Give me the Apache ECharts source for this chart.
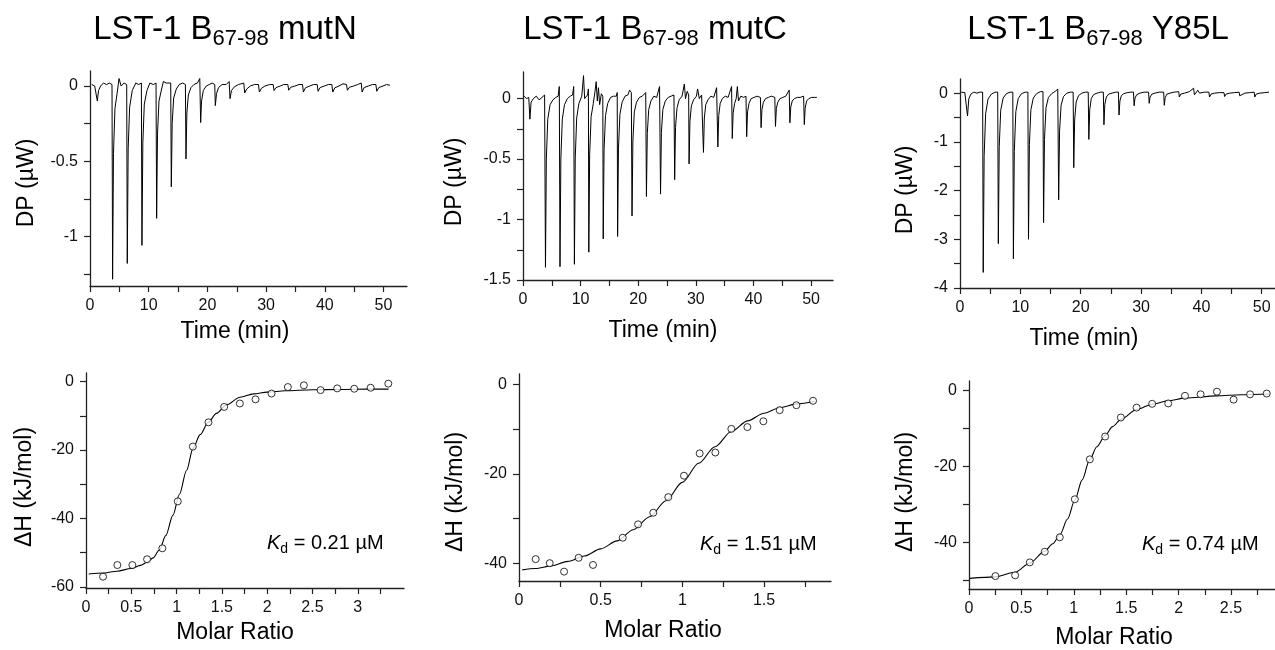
<!DOCTYPE html>
<html>
<head>
<meta charset="utf-8">
<script src="https://cdn.jsdelivr.net/npm/echarts@6/dist/echarts.min.js"></script>
<style>
html,body{margin:0;padding:0;background:#fff;}
#chart{width:1275px;height:650px;}
</style>
</head>
<body>
<div id="chart"></div>
<script>
// ---------------- DATA ----------------
const titles = ['mutN', 'mutC', 'Y85L'];
const kdLabels = ['0.21', '1.51', '0.74'];

// Raw thermograms: [time (min), DP (µW)]
const traceMutN = [
 [0.3,0.01],[0.8,0.0],[1.1,0.01],[1.25,-0.10],[1.45,-0.03],[1.8,0.0],[2.3,0.02],[2.8,0.01],[3.3,0.02],[3.75,0.01],
 [3.85,-1.285],[4.0,-0.45],[4.25,-0.15],[4.65,-0.04],[4.95,0.05],[5.3,0.0],[5.8,0.02],[6.25,0.01],
 [6.35,-1.18],[6.5,-0.42],[6.75,-0.14],[7.2,-0.03],[7.8,0.02],[8.3,0.01],[8.75,0.02],
 [8.85,-1.06],[9.0,-0.38],[9.25,-0.12],[9.7,-0.03],[10.2,0.02],[10.8,0.01],[11.25,0.02],
 [11.35,-0.88],[11.5,-0.32],[11.75,-0.10],[12.2,-0.02],[12.5,0.03],[13.0,0.02],[13.75,0.02],
 [13.85,-0.67],[14.0,-0.25],[14.25,-0.08],[14.7,-0.02],[15.2,0.01],[15.8,0.02],[16.25,0.01],
 [16.35,-0.485],[16.5,-0.18],[16.75,-0.06],[17.2,-0.01],[17.7,0.01],[18.3,0.02],[18.7,0.05],
 [18.85,-0.243],[19.0,-0.10],[19.3,-0.03],[19.8,0.0],[20.3,0.01],[20.8,0.02],[21.25,0.01],
 [21.35,-0.13],[21.55,-0.05],[21.9,-0.01],[22.5,0.01],[23.2,0.01],[23.7,0.03],
 [23.85,-0.084],[24.1,-0.03],[24.6,-0.005],[25.3,0.01],[26.2,0.02],
 [26.35,-0.046],[26.7,-0.02],[27.3,0.0],[28.0,0.01],[28.7,0.01],
 [28.85,-0.04],[29.2,-0.015],[29.8,0.0],[30.6,0.01],[31.2,0.01],
 [31.35,-0.03],[31.7,-0.01],[32.4,0.0],[33.0,0.01],[33.7,0.01],
 [33.85,-0.028],[34.2,-0.008],[34.9,0.0],[35.6,0.01],[36.2,0.01],
 [36.35,-0.04],[36.7,-0.012],[37.4,0.0],[38.1,0.01],[38.7,0.01],
 [38.85,-0.035],[39.2,-0.01],[39.9,0.0],[40.6,0.01],[41.2,0.01],
 [41.35,-0.04],[41.7,-0.012],[42.4,0.0],[43.1,0.015],[43.7,0.01],
 [43.85,-0.028],[44.2,-0.008],[44.9,0.0],[45.6,0.01],[46.2,0.02],
 [46.35,-0.04],[46.7,-0.01],[47.4,0.0],[48.1,0.01],[48.7,0.01],
 [48.85,-0.035],[49.2,-0.01],[49.9,0.0],[50.5,0.01],[51.1,0.005]
];
const traceMutC = [
 [0.2,0.02],[0.6,0.0],[1.0,0.01],[1.2,-0.17],[1.4,-0.03],[1.8,0.0],[2.3,0.02],[2.8,-0.01],[3.3,0.01],[3.75,0.03],
 [3.9,-1.395],[4.05,-0.5],[4.3,-0.17],[4.7,-0.05],[5.2,-0.01],[5.7,0.01],[6.1,0.02],[6.3,0.1],
 [6.42,-1.39],[6.57,-0.5],[6.82,-0.17],[7.2,-0.05],[7.7,0.0],[8.2,0.02],[8.6,0.03],[8.8,0.1],
 [8.92,-1.37],[9.07,-0.49],[9.32,-0.16],[9.7,-0.04],[10.2,0.02],[10.5,0.19],[10.7,0.0],[11.2,0.03],[11.35,0.08],
 [11.42,-1.27],[11.57,-0.46],[11.82,-0.15],[12.2,-0.04],[12.5,0.06],[12.7,0.14],[12.9,-0.02],[13.1,0.09],[13.3,-0.05],[13.6,0.04],[13.85,0.02],
 [13.92,-1.16],[14.07,-0.42],[14.32,-0.14],[14.7,-0.04],[15.2,0.01],[15.7,0.02],[16.2,0.02],[16.35,0.05],
 [16.42,-1.14],[16.57,-0.41],[16.82,-0.13],[17.2,-0.03],[17.7,0.02],[18.2,0.03],[18.5,0.07],[18.8,0.05],
 [18.92,-0.97],[19.07,-0.35],[19.32,-0.11],[19.7,-0.03],[20.2,0.01],[20.7,0.02],[21.3,0.05],
 [21.42,-0.81],[21.57,-0.29],[21.82,-0.09],[22.2,-0.02],[22.7,0.02],[23.2,0.01],[23.7,0.1],
 [23.87,-0.79],[24.02,-0.28],[24.27,-0.09],[24.7,-0.02],[25.2,0.01],[25.7,0.02],[26.2,0.03],
 [26.32,-0.67],[26.47,-0.24],[26.72,-0.08],[27.1,-0.01],[27.6,0.02],[28.0,0.12],[28.2,0.0],[28.5,0.06],[28.75,0.03],
 [28.82,-0.54],[28.97,-0.19],[29.22,-0.06],[29.6,-0.01],[30.1,0.02],[30.3,0.08],[30.6,0.0],[31.0,0.03],[31.25,0.02],
 [31.32,-0.445],[31.47,-0.16],[31.72,-0.05],[32.1,-0.01],[32.6,0.02],[33.1,0.01],[33.6,0.09],
 [33.82,-0.40],[33.97,-0.14],[34.22,-0.04],[34.6,0.0],[35.1,0.02],[35.6,0.01],[36.2,0.1],
 [36.32,-0.33],[36.47,-0.12],[36.72,-0.04],[37.0,0.0],[37.2,0.1],[37.4,-0.02],[37.8,0.02],[38.3,0.01],[38.7,0.02],
 [38.82,-0.315],[38.97,-0.11],[39.22,-0.04],[39.6,0.0],[40.1,0.01],[40.6,0.02],[41.2,0.01],
 [41.32,-0.24],[41.47,-0.09],[41.72,-0.03],[42.1,0.0],[42.6,0.01],[43.1,0.02],[43.7,0.01],
 [43.82,-0.23],[43.97,-0.08],[44.22,-0.03],[44.6,0.0],[45.1,0.01],[45.6,0.02],[46.2,0.07],
 [46.32,-0.20],[46.47,-0.07],[46.72,-0.02],[47.1,0.0],[47.6,0.01],[48.1,0.01],[48.7,0.02],
 [48.82,-0.215],[48.97,-0.08],[49.22,-0.02],[49.6,0.0],[50.1,0.01],[50.6,0.01],[51.0,0.01]
];
const traceY85L = [
 [0.2,0.02],[0.8,0.01],[1.1,0.02],[1.25,-0.47],[1.45,-0.12],[1.8,-0.02],[2.3,0.02],[2.8,0.0],[3.3,0.02],[3.75,0.02],
 [3.85,-3.68],[4.0,-1.3],[4.25,-0.42],[4.65,-0.12],[5.2,-0.02],[5.8,0.02],[6.25,0.02],
 [6.35,-3.09],[6.5,-1.1],[6.75,-0.35],[7.15,-0.10],[7.7,-0.01],[8.3,0.02],[8.75,0.02],
 [8.85,-3.40],[9.0,-1.2],[9.25,-0.38],[9.65,-0.11],[10.2,-0.01],[10.8,0.02],[11.25,0.02],
 [11.35,-3.0],[11.5,-1.05],[11.75,-0.34],[12.15,-0.10],[12.7,-0.01],[13.3,0.03],[13.75,0.03],
 [13.85,-2.66],[14.0,-0.95],[14.25,-0.30],[14.65,-0.09],[15.2,-0.01],[15.8,0.04],[16.2,0.08],
 [16.35,-2.19],[16.5,-0.78],[16.75,-0.25],[17.15,-0.07],[17.7,0.0],[18.3,0.02],[18.75,0.02],
 [18.85,-1.53],[19.0,-0.55],[19.25,-0.18],[19.65,-0.05],[20.2,0.0],[20.8,0.02],[21.25,0.02],
 [21.35,-0.95],[21.5,-0.34],[21.75,-0.11],[22.15,-0.03],[22.7,0.0],[23.3,0.02],[23.75,0.02],
 [23.85,-0.65],[24.0,-0.23],[24.25,-0.08],[24.65,-0.02],[25.2,0.0],[25.8,0.02],[26.25,0.02],
 [26.35,-0.45],[26.5,-0.16],[26.75,-0.05],[27.15,-0.01],[27.7,0.01],[28.3,0.02],[28.75,0.02],
 [28.85,-0.26],[29.0,-0.10],[29.3,-0.03],[29.8,0.0],[30.5,0.02],[31.25,0.02],
 [31.35,-0.21],[31.5,-0.08],[31.8,-0.02],[32.3,0.0],[33.0,0.02],[33.75,0.02],
 [33.85,-0.25],[34.0,-0.09],[34.3,-0.02],[34.8,0.0],[35.5,0.02],[36.25,0.03],
 [36.35,-0.08],[36.6,-0.02],[37.2,0.0],[38.0,0.03],[38.7,0.1],
 [38.85,-0.035],[39.1,0.0],[39.4,0.06],[39.7,0.0],[40.5,0.02],[41.25,0.02],
 [41.35,-0.08],[41.6,-0.02],[42.2,0.0],[43.0,0.01],[43.75,0.01],
 [43.85,-0.07],[44.1,-0.02],[44.7,0.0],[45.5,0.01],[46.25,0.02],
 [46.35,-0.055],[46.6,-0.015],[47.2,0.0],[48.0,0.01],[48.75,0.02],
 [48.85,-0.08],[49.1,-0.02],[49.7,0.0],[50.5,0.01],[51.2,0.02]
];

// Integrated heats
const mutN_ratio = [0.188,0.346,0.512,0.674,0.843,1.013,1.179,1.352,1.525,1.698,1.871,2.048,2.228,2.405,2.589,2.773,2.961,3.142,3.337];
const mutN_dH    = [-57.0,-53.6,-53.6,-51.9,-48.7,-35.0,-19.0,-11.9,-7.4,-6.4,-5.2,-3.5,-1.6,-1.1,-2.5,-2.0,-2.1,-1.8,-0.6];
const mutC_ratio = [0.102,0.188,0.276,0.365,0.453,0.635,0.729,0.822,0.914,1.010,1.106,1.202,1.300,1.398,1.496,1.596,1.698,1.800];
const mutC_dH    = [-39.1,-40.0,-41.9,-38.8,-40.4,-34.3,-31.3,-28.7,-25.2,-20.4,-15.4,-15.2,-9.9,-9.5,-8.2,-5.7,-4.6,-3.6];
const y85l_ratio = [0.252,0.44,0.58,0.723,0.866,1.01,1.153,1.299,1.449,1.599,1.748,1.901,2.061,2.21,2.366,2.525,2.682,2.841];
const y85l_dH    = [-48.8,-48.6,-45.2,-42.4,-38.6,-28.6,-18.1,-12.1,-7.1,-4.5,-3.5,-3.4,-1.4,-1.0,-0.3,-2.4,-1.0,-0.8];

// Fitted curves
const mutN_fitX = [0.03,0.2,0.34,0.5,0.6,0.68,0.74,0.81,0.88,0.96,1.03,1.11,1.18,1.26,1.35,1.44,1.55,1.7,1.85,2.0,2.2,2.5,2.8,3.1,3.34];
const mutN_fitY = [-56.2,-55.9,-55.4,-54.6,-53.7,-52.7,-51.5,-49.2,-45.0,-39.0,-33.0,-26.0,-19.6,-15.5,-11.9,-9.3,-6.8,-4.6,-3.6,-3.1,-2.7,-2.4,-2.3,-2.2,-2.2];
const mutC_fitX = [0.02,0.1,0.2,0.3,0.4,0.5,0.6,0.7,0.8,0.9,1.0,1.1,1.2,1.3,1.4,1.5,1.6,1.7,1.81];
const mutC_fitY = [-41.5,-41.2,-40.6,-39.6,-38.4,-36.8,-35.0,-32.5,-29.6,-26.0,-21.9,-17.6,-13.9,-10.5,-8.1,-6.4,-5.1,-4.3,-3.7];
const y85l_fitX = [0.01,0.25,0.44,0.58,0.72,0.8,0.87,0.94,1.01,1.08,1.15,1.22,1.3,1.37,1.45,1.6,1.75,1.9,2.06,2.36,2.6,2.87];
const y85l_fitY = [-49.4,-49.0,-47.8,-45.4,-42.3,-40.3,-37.8,-33.8,-28.8,-23.5,-18.3,-14.8,-11.8,-9.5,-7.6,-5.0,-3.6,-2.7,-2.0,-1.4,-1.1,-0.9];

// Tick values and tick labels
const timeTicks  = [0,5,10,15,20,25,30,35,40,45,50];
const timeLabels = [0,10,20,30,40,50];
const dpN_ticks  = [0,-0.25,-0.5,-0.75,-1,-1.25];
const dpN_labels = [0,-0.5,-1];
const dpC_ticks  = [0,-0.25,-0.5,-0.75,-1,-1.25,-1.5];
const dpC_labels = [0,-0.5,-1,-1.5];
const dpY_ticks  = [0,-0.5,-1,-1.5,-2,-2.5,-3,-3.5,-4];
const dpY_labels = [0,-1,-2,-3,-4];
const mrN_ticks  = [0,0.25,0.5,0.75,1,1.25,1.5,1.75,2,2.25,2.5,2.75,3,3.25];
const mrN_labels = [0,0.5,1,1.5,2,2.5,3];
const mrC_ticks  = [0,0.25,0.5,0.75,1,1.25,1.5,1.75];
const mrC_labels = [0,0.5,1,1.5];
const mrY_ticks  = [0,0.25,0.5,0.75,1,1.25,1.5,1.75,2,2.25,2.5,2.75];
const mrY_labels = [0,0.5,1,1.5,2,2.5];
const dhN_ticks  = [0,-10,-20,-30,-40,-50,-60];
const dhN_labels = [0,-20,-40,-60];
const dhC_ticks  = [0,-10,-20,-30,-40];
const dhC_labels = [0,-20,-40];
const dhY_ticks  = [0,-10,-20,-30,-40,-50];
const dhY_labels = [0,-20,-40];

// ---------------- LAYOUT ----------------
const FONT = '"Liberation Sans", Arial, Helvetica, sans-serif';
const AX = '#222';
const grids = [
  {left:90,  top:71,  width:317, height:215},
  {left:523, top:72,  width:310, height:208},
  {left:960, top:79,  width:315, height:209},
  {left:86,  top:373, width:318, height:215},
  {left:519, top:374, width:312, height:207},
  {left:969, top:381, width:306, height:208}
].map(g => Object.assign({outerBoundsMode:'none', containLabel:false}, g));

const xRanges = [[0,54],[0,53.8],[0,52.2],[0,3.51],[0,1.91],[0,2.92]];
const yRanges = [[-1.33,0.1],[-1.5,0.22],[-4,0.29],[-60.3,2.5],[-44,2.4],[-52.2,2.5]];
const xTickSets = [timeTicks,timeTicks,timeTicks,mrN_ticks,mrC_ticks,mrY_ticks];
const xLabelSets = [timeLabels,timeLabels,timeLabels,mrN_labels,mrC_labels,mrY_labels];
const yTickSets = [dpN_ticks,dpC_ticks,dpY_ticks,dhN_ticks,dhC_ticks,dhY_ticks];
const yLabelSets = [dpN_labels,dpC_labels,dpY_labels,dhN_labels,dhC_labels,dhY_labels];

function mkAxis(i, isX) {
  const r = isX ? xRanges[i] : yRanges[i];
  return {
    type:'value', gridIndex:i, min:r[0], max:r[1], scale:true,
    axisLine:{show:true, onZero:false, lineStyle:{color:AX, width:1.3}},
    axisTick:{show:true, inside:false, length:6, customValues:(isX?xTickSets:yTickSets)[i], lineStyle:{color:AX, width:1.2}},
    axisLabel:{show:true, customValues:(isX?xLabelSets:yLabelSets)[i], margin:isX?12:12,
      fontSize:16, fontFamily:FONT, color:'#111', formatter:v => String(v), hideOverlap:false,
      showMinLabel:true, showMaxLabel:true},
    splitLine:{show:false}, minorTick:{show:false}
  };
}
const xAxes = [], yAxes = [];
for (let i = 0; i < 6; i++) { xAxes.push(mkAxis(i, true)); yAxes.push(mkAxis(i, false)); }

const pair = (xs, ys) => xs.map((x, k) => [x, ys[k]]);
const traces = [traceMutN, traceMutC, traceY85L];
const series = [];
traces.forEach((tr, i) => series.push({
  type:'line', xAxisIndex:i, yAxisIndex:i, data:tr, showSymbol:false, symbol:'none',
  lineStyle:{color:'#000', width:1}, animation:false, silent:true
}));
const fits = [[mutN_fitX,mutN_fitY],[mutC_fitX,mutC_fitY],[y85l_fitX,y85l_fitY]];
const pts = [[mutN_ratio,mutN_dH],[mutC_ratio,mutC_dH],[y85l_ratio,y85l_dH]];
fits.forEach((f, j) => series.push({
  type:'line', xAxisIndex:3+j, yAxisIndex:3+j, data:pair(f[0], f[1]), showSymbol:false, symbol:'none',
  smooth:0.3, smoothMonotone:'x', lineStyle:{color:'#000', width:1.1}, animation:false, silent:true, z:2
}));
pts.forEach((p, j) => series.push({
  type:'scatter', xAxisIndex:3+j, yAxisIndex:3+j, data:pair(p[0], p[1]), symbol:'circle', symbolSize:7,
  itemStyle:{color:'#fff', borderColor:'#000', borderWidth:1}, animation:false, silent:true, z:3
}));

// ---------------- TEXT ----------------
const titleX = [225, 655, 1098];
const graphics = [];
titles.forEach((t, i) => graphics.push({
  type:'text', x:titleX[i], y:30, silent:true,
  style:{text:'{a|LST-1 B}{s|67-98}{a| ' + t + '}', align:'center', verticalAlign:'middle',
    rich:{a:{fontSize:33, fontFamily:FONT, fill:'#000', lineHeight:40},
          s:{fontSize:22, fontFamily:FONT, fill:'#000', lineHeight:24, verticalAlign:'bottom'}}}
}));
function label(text, x, y, rot) {
  graphics.push({type:'text', x:x, y:y, rotation:rot ? Math.PI/2 : 0, silent:true,
    style:{text:text, fontSize:23, fontFamily:FONT, fill:'#000', align:'center', verticalAlign:'middle'}});
}
label('DP (µW)', 27, 183, true);
label('DP (µW)', 455, 182, true);
label('DP (µW)', 906, 190, true);
label('Time (min)', 235, 332, false);
label('Time (min)', 663, 331, false);
label('Time (min)', 1084, 339, false);
label('ΔH (kJ/mol)', 25, 487, true);
label('ΔH (kJ/mol)', 456, 492, true);
label('ΔH (kJ/mol)', 906, 492, true);
label('Molar Ratio', 235, 633, false);
label('Molar Ratio', 663, 631, false);
label('Molar Ratio', 1114, 638, false);
const kdPos = [[267,543],[700,544],[1142,544]];
kdLabels.forEach((k, i) => graphics.push({
  type:'text', x:kdPos[i][0], y:kdPos[i][1], silent:true,
  style:{text:'{k|K}{d|d}{n| = ' + k + ' µM}', align:'left', verticalAlign:'middle',
    rich:{k:{fontSize:20, fontStyle:'italic', fontFamily:FONT, fill:'#000', lineHeight:26},
          d:{fontSize:14, fontFamily:FONT, fill:'#000', lineHeight:16, verticalAlign:'bottom'},
          n:{fontSize:20, fontFamily:FONT, fill:'#000', lineHeight:26}}}
}));

const chart = echarts.init(document.getElementById('chart'), null, {renderer:'canvas'});
chart.setOption({
  animation:false, backgroundColor:'#fff',
  grid:grids, xAxis:xAxes, yAxis:yAxes, series:series, graphic:graphics
});
</script>
</body>
</html>
